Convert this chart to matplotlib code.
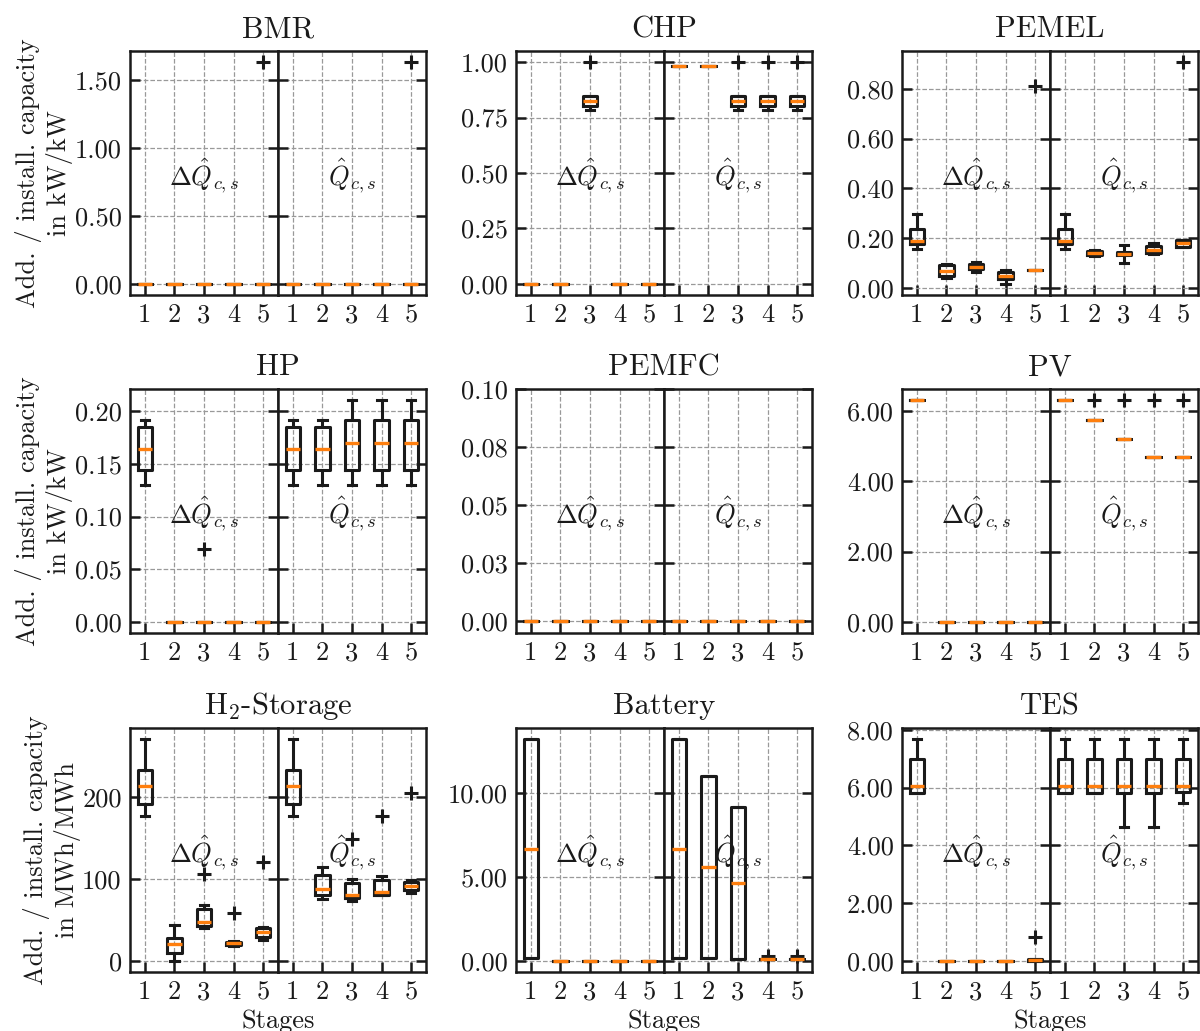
import numpy as np
import matplotlib
matplotlib.use('Agg')
import matplotlib.pyplot as plt
from matplotlib.ticker import FixedLocator

plt.rcParams['font.family'] = 'serif'
plt.rcParams['font.serif'] = ['cmr10']
plt.rcParams['mathtext.fontset'] = 'cm'
plt.rcParams['axes.formatter.use_mathtext'] = True
plt.rcParams['axes.unicode_minus'] = False

stages = [1, 2, 3, 4, 5]

# box statistics per stage: [whislo, q1, median, q3, whishi]
# first five rows -> additional capacity, last five -> installed capacity
bmr_boxes = [[0, 0, 0, 0, 0]] * 10
bmr_fliers = [[], [], [], [], [1.63], [], [], [], [], [1.63]]

chp_boxes = [
    [0, 0, 0, 0, 0],
    [0, 0, 0, 0, 0],
    [0.785, 0.80, 0.823, 0.845, 0.845],
    [0, 0, 0, 0, 0],
    [0, 0, 0, 0, 0],
    [0.982, 0.982, 0.982, 0.982, 0.982],
    [0.982, 0.982, 0.982, 0.982, 0.982],
    [0.785, 0.80, 0.823, 0.845, 0.845],
    [0.785, 0.80, 0.823, 0.845, 0.845],
    [0.785, 0.80, 0.823, 0.845, 0.845],
]
chp_fliers = [[], [], [1.0], [], [], [], [], [1.0], [1.0], [1.0]]

pemel_boxes = [
    [0.158, 0.177, 0.191, 0.237, 0.298],
    [0.040, 0.049, 0.069, 0.091, 0.096],
    [0.065, 0.076, 0.085, 0.096, 0.103],
    [0.017, 0.036, 0.047, 0.064, 0.072],
    [0.071, 0.071, 0.071, 0.071, 0.071],
    [0.158, 0.177, 0.191, 0.237, 0.298],
    [0.128, 0.131, 0.142, 0.150, 0.152],
    [0.100, 0.131, 0.138, 0.146, 0.174],
    [0.138, 0.140, 0.152, 0.171, 0.180],
    [0.165, 0.165, 0.183, 0.195, 0.195],
]
pemel_fliers = [[], [], [], [], [0.81], [], [], [], [], [0.907]]

hp_boxes = [
    [0.130, 0.144, 0.1636, 0.185, 0.192],
    [0, 0, 0, 0, 0],
    [0, 0, 0, 0, 0],
    [0, 0, 0, 0, 0],
    [0, 0, 0, 0, 0],
    [0.130, 0.144, 0.1636, 0.185, 0.192],
    [0.130, 0.144, 0.1636, 0.185, 0.192],
    [0.130, 0.144, 0.1696, 0.1915, 0.2105],
    [0.130, 0.144, 0.1696, 0.1915, 0.2105],
    [0.130, 0.144, 0.1696, 0.1915, 0.2105],
]
hp_fliers = [[], [], [0.069], [], [], [], [], [], [], []]

pemfc_boxes = [[0, 0, 0, 0, 0]] * 10
pemfc_fliers = [[]] * 10

pv_boxes = [
    [6.31, 6.31, 6.31, 6.31, 6.31],
    [0, 0, 0, 0, 0],
    [0, 0, 0, 0, 0],
    [0, 0, 0, 0, 0],
    [0, 0, 0, 0, 0],
    [6.31, 6.31, 6.31, 6.31, 6.31],
    [5.73, 5.73, 5.73, 5.73, 5.73],
    [5.19, 5.19, 5.19, 5.19, 5.19],
    [4.70, 4.70, 4.70, 4.70, 4.70],
    [4.70, 4.70, 4.70, 4.70, 4.70],
]
pv_fliers = [[], [], [], [], [], [], [6.31], [6.31], [6.31], [6.31]]

h2_boxes = [
    [177.6, 192.2, 213.5, 233.9, 271.4],
    [0.0, 10.2, 20.4, 28.6, 44.1],
    [40.4, 42.9, 47.3, 63.3, 68.2],
    [18.5, 19.5, 21.6, 23.2, 24.0],
    [25.7, 29.0, 35.1, 40.0, 41.2],
    [177.6, 192.2, 213.5, 233.9, 271.4],
    [75.5, 80.8, 87.8, 105.3, 114.7],
    [73.9, 76.7, 80.8, 95.9, 100.4],
    [80.8, 80.8, 84.9, 99.2, 103.3],
    [83.0, 87.0, 92.0, 97.0, 99.0],
]
h2_fliers = [[], [], [106.5], [58.4], [121.6], [], [], [149.0], [177.6], [205.5]]

battery_boxes = [
    [0.2, 0.2, 6.69, 13.25, 13.25],
    [0, 0, 0, 0, 0],
    [0, 0, 0, 0, 0],
    [0, 0, 0, 0, 0],
    [0, 0, 0, 0, 0],
    [0.2, 0.2, 6.69, 13.25, 13.25],
    [0.16, 0.16, 5.6, 11.02, 11.02],
    [0.14, 0.14, 4.68, 9.2, 9.2],
    [0.14, 0.14, 0.14, 0.14, 0.14],
    [0.14, 0.14, 0.14, 0.14, 0.14],
]
battery_fliers = [[], [], [], [], [], [], [], [], [0.3], [0.3]]

tes_boxes = [
    [5.81, 5.81, 6.06, 7.0, 7.68],
    [0, 0, 0, 0, 0],
    [0, 0, 0, 0, 0],
    [0, 0, 0, 0, 0],
    [0.0, 0.0, 0.02, 0.06, 0.06],
    [5.81, 5.81, 6.06, 7.0, 7.68],
    [5.81, 5.81, 6.06, 7.0, 7.68],
    [4.65, 5.81, 6.06, 7.0, 7.68],
    [4.65, 5.81, 6.06, 7.0, 7.68],
    [5.48, 5.86, 6.06, 7.0, 7.68],
]
tes_fliers = [[], [], [], [], [0.84], [], [], [], [], []]

titles = ['BMR', 'CHP', 'PEMEL', 'HP', 'PEMFC', 'PV',
          r'H$_2$-Storage', 'Battery', 'TES']
all_boxes = [bmr_boxes, chp_boxes, pemel_boxes, hp_boxes, pemfc_boxes,
             pv_boxes, h2_boxes, battery_boxes, tes_boxes]
all_fliers = [bmr_fliers, chp_fliers, pemel_fliers, hp_fliers, pemfc_fliers,
              pv_fliers, h2_fliers, battery_fliers, tes_fliers]
ylims = [(-0.0815, 1.7115), (-0.05, 1.05), (-0.0275, 0.9515),
         (-0.0105, 0.221), (-0.005, 0.1), (-0.3155, 6.6255),
         (-13.57, 285.0), (-0.6625, 13.9125), (-0.384, 8.064)]
yticks = [[0, 0.5, 1.0, 1.5], [0, 0.25, 0.5, 0.75, 1.0],
          [0, 0.2, 0.4, 0.6, 0.8], [0, 0.05, 0.1, 0.15, 0.2],
          [0, 0.025, 0.05, 0.075, 0.1], [0, 2, 4, 6],
          [0, 100, 200], [0, 5, 10], [0, 2, 4, 6, 8]]
ytick_labels = [['0.00', '0.50', '1.00', '1.50'],
                ['0.00', '0.25', '0.50', '0.75', '1.00'],
                ['0.00', '0.20', '0.40', '0.60', '0.80'],
                ['0.00', '0.05', '0.10', '0.15', '0.20'],
                ['0.00', '0.03', '0.05', '0.08', '0.10'],
                ['0.00', '2.00', '4.00', '6.00'],
                ['0', '100', '200'],
                ['0.00', '5.00', '10.00'],
                ['0.00', '2.00', '4.00', '6.00', '8.00']]
ylabels = ['Add. / install. capacity\nin kW/kW',
           'Add. / install. capacity\nin kW/kW',
           'Add. / install. capacity\nin MWh/MWh']

black = '#1a1a1a'
orange = '#ff7f0e'


def draw_boxes(ax, boxes, fliers):
    stats = []
    for (lo, q1, med, q3, hi), fl in zip(boxes, fliers):
        stats.append(dict(whislo=lo, q1=q1, med=med, q3=q3, whishi=hi,
                          fliers=np.asarray(fl, dtype=float)))
    ax.bxp(stats, positions=stages, widths=0.48, capwidths=0.28,
           boxprops=dict(color=black, linewidth=2.2),
           whiskerprops=dict(color=black, linewidth=2.2),
           capprops=dict(color=black, linewidth=2.2),
           medianprops=dict(color=orange, linewidth=2.4),
           flierprops=dict(marker='+', markeredgecolor=black,
                           markersize=9.5, markeredgewidth=2.2))


def style_axis(ax, i, show_left):
    ax.set_xlim(0.5, 5.5)
    ax.set_ylim(*ylims[i])
    ax.yaxis.set_major_locator(FixedLocator(yticks[i]))
    ax.set_yticklabels(ytick_labels[i])
    ax.set_xticks(stages)
    ax.set_xticklabels([str(s) for s in stages])
    ax.grid(True, linestyle='--', color='#999999', linewidth=0.9)
    ax.set_axisbelow(True)
    ax.tick_params(axis='both', direction='in', length=7.5, width=1.8,
                   labelsize=19, colors=black)
    ax.tick_params(axis='y', left=True, right=True, labelleft=show_left,
                   pad=6)
    ax.tick_params(axis='x', top=False, pad=6)
    for sp in ax.spines.values():
        sp.set_linewidth(1.8)
        sp.set_color(black)


fig = plt.figure(figsize=(12, 10.31), dpi=100)
W, H = 1200.0, 1031.0
col_left = [130, 516, 902]
row_top = [51, 389, 728]
sub_w = 148
sub_h = 244

for i in range(9):
    r, c = divmod(i, 3)
    x0 = col_left[c] / W
    y0 = 1 - (row_top[r] + sub_h) / H
    ax_add = fig.add_axes([x0, y0, sub_w / W, sub_h / H])
    ax_tot = fig.add_axes([x0 + sub_w / W, y0, sub_w / W, sub_h / H])

    draw_boxes(ax_add, all_boxes[i][:5], all_fliers[i][:5])
    draw_boxes(ax_tot, all_boxes[i][5:], all_fliers[i][5:])
    style_axis(ax_add, i, True)
    style_axis(ax_tot, i, False)

    ax_add.text(0.5, 0.49, r'$\Delta\hat{Q}_{c,s}$', transform=ax_add.transAxes,
                ha='center', va='center', fontsize=19, color=black)
    ax_tot.text(0.5, 0.49, r'$\hat{Q}_{c,s}$', transform=ax_tot.transAxes,
                ha='center', va='center', fontsize=19, color=black)

    ax_add.set_title(titles[i], x=1.0, fontsize=22, pad=10, color=black)
    if c == 0:
        ax_add.set_ylabel(ylabels[r], fontsize=19, labelpad=1, color=black)
    if r == 2:
        ax_add.set_xlabel('Stages', x=1.0, fontsize=19, labelpad=4,
                          color=black)

fig.savefig('out.png', dpi=100)
